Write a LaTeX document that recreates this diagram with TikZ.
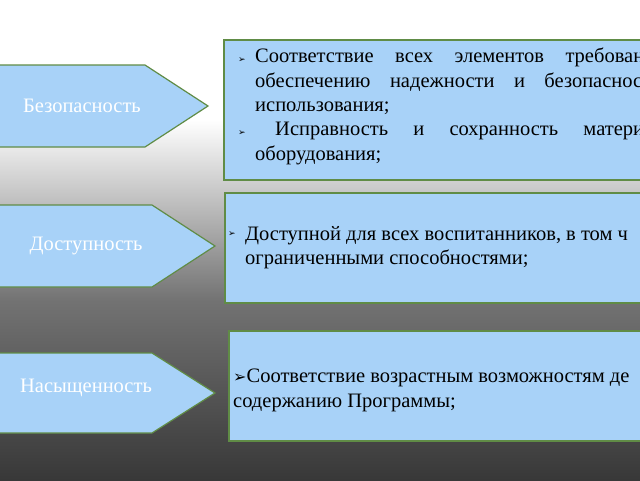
\documentclass[tikz,border=0pt]{standalone}
\usepackage{fontspec}
\setmainfont{Liberation Serif}
\newfontfamily\symf{DejaVu Sans}
\definecolor{boxblue}{RGB}{168,210,248}
\definecolor{boxgreen}{RGB}{96,140,70}
\begin{document}
\begin{tikzpicture}[x=1pt,y=-1pt,
  arrowbox/.style={fill=boxblue,draw=boxgreen,line width=1.2pt},
  rbox/.style={fill=boxblue,draw=boxgreen,line width=1.2pt},
  lbl/.style={text=white,font=\fontsize{20.5}{22}\selectfont},
  txt/.style={anchor=base west,inner sep=0pt,font=\fontsize{20.5}{22}\selectfont}]
\useasboundingbox (0,0) rectangle (640,480);
\clip (0,0) rectangle (640,480);
\shade[top color=white,bottom color=white] (0,0) rectangle (640,120);
\shade[top color=white,bottom color=black!55] (0,120) rectangle (640,300);
\shade[top color=black!55,bottom color=black!78] (0,300) rectangle (640,480);
% arrows
\draw[arrowbox] (-2,65) -- (145,65) -- (208,106) -- (145,147) -- (-2,147) -- cycle;
\draw[arrowbox] (-2,205) -- (152,205) -- (215,246) -- (152,287) -- (-2,287) -- cycle;
\draw[arrowbox] (-2,353) -- (152,353) -- (215,393) -- (152,433) -- (-2,433) -- cycle;
\node[lbl] (a1) at (82,106) {Безопасность};
\node[lbl] (a2) at (86,246) {Доступность};
\node[lbl] (a3) at (86,388) {Насыщенность};
% boxes
\draw[rbox] (224,40) rectangle (650,180);
\draw[rbox] (225,193) rectangle (650,303);
\draw[rbox] (229,331) rectangle (650,441);
\node[txt] at (238,62) {\symf\fontsize{9}{10}\selectfont ➢};
\node[txt] (t1) at (255,62) {\makebox[400pt][s]{Соответствие всех элементов требовани}};
\node[txt] (t2) at (255,87) {\makebox[396pt][s]{обеспечению надежности и безопасност}};
\node[txt] (t3) at (255,111) {использования;};
\node[txt] at (238,135) {\symf\fontsize{9}{10}\selectfont ➢};
\node[txt] (t4) at (275,135) {\makebox[378pt][s]{Исправность и сохранность материа}};
\node[txt] (t5) at (255,160) {оборудования;};
\node[txt] at (228,236) {\symf\fontsize{9}{10}\selectfont ➢};
\node[txt] (t6) at (245,240) {Доступной для всех воспитанников, в том ч};
\node[txt] (t7) at (245,264) {ограниченными способностями;};
\node[txt] (t8) at (233,382) {{\symf\fontsize{16}{16}\selectfont ➢}Соответствие возрастным возможностям де};
\node[txt] (t9) at (233,407) {содержанию Программы;};
\end{tikzpicture}
\end{document}
